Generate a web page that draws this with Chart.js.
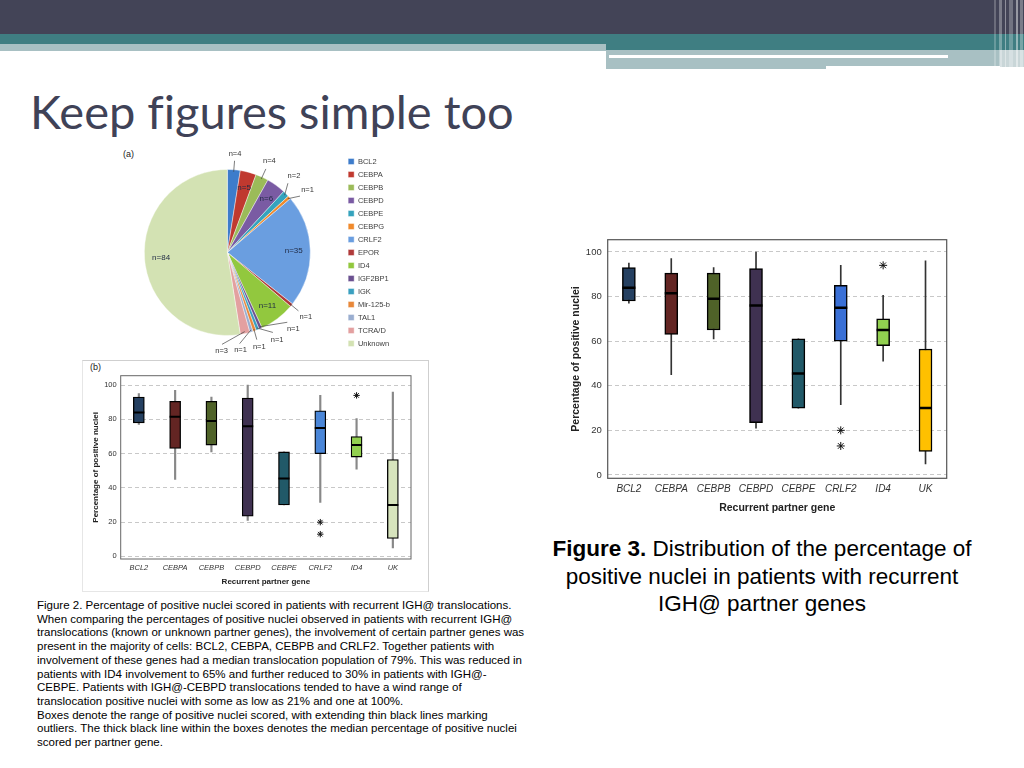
<!DOCTYPE html>
<html><head><meta charset="utf-8">
<script src="https://cdn.jsdelivr.net/npm/chart.js@4.4.0/dist/chart.umd.min.js"></script>
<style>
html,body{margin:0;padding:0;width:1024px;height:768px;overflow:hidden;background:#fff;}
.abs{position:absolute;}
#title{left:30px;top:83px;font-family:Lato,"Open Sans",sans-serif;font-size:47px;color:#3f4257;white-space:nowrap;font-variant-ligatures:none;}
#fig3{left:500px;top:535px;width:524px;text-align:center;font-family:"Liberation Sans",Arial,sans-serif;font-size:22.5px;line-height:27.5px;color:#000;}
#fig3 .in{display:inline-block;margin-left:0;}
#fig2{left:37px;top:599px;font-family:"Liberation Sans",Arial,sans-serif;font-size:11.5px;line-height:13.7px;color:#000;white-space:nowrap;}
.lab{font-family:"Liberation Sans",Arial,sans-serif;color:#222;}
</style></head><body>
<!-- header bands -->
<div class="abs" style="left:0;top:0;width:1024px;height:34px;background:#434457"></div>
<div class="abs" style="left:0;top:34px;width:1024px;height:10px;background:#3f7e82"></div>
<div class="abs" style="left:0;top:44px;width:606px;height:7px;background:#a8c0c3"></div>
<div class="abs" style="left:606px;top:44px;width:418px;height:6px;background:#3f7e82"></div>
<div class="abs" style="left:606px;top:50px;width:394px;height:19px;background:#a8c0c3"></div>
<div class="abs" style="left:609px;top:55px;width:339px;height:3px;background:#fff"></div>
<div class="abs" style="left:826px;top:66px;width:174px;height:3px;background:#fff"></div>
<div class="abs" style="left:1000px;top:50px;width:24px;height:17px;background:#c9d6d8"></div>
<div class="abs" style="left:994px;top:0;width:2px;height:69px;background:rgba(255,255,255,0.22)"></div>
<div class="abs" style="left:999px;top:0;width:3px;height:69px;background:rgba(255,255,255,0.3)"></div>
<div class="abs" style="left:1005px;top:0;width:1px;height:69px;background:rgba(255,255,255,0.4)"></div>
<div class="abs" style="left:1009px;top:0;width:4px;height:69px;background:rgba(255,255,255,0.25)"></div>
<div class="abs" style="left:1016px;top:0;width:2px;height:69px;background:rgba(255,255,255,0.45)"></div>
<div class="abs" style="left:1020px;top:0;width:3px;height:69px;background:rgba(255,255,255,0.3)"></div>

<div id="title" class="abs">Keep figures simple too</div>

<div class="abs lab" style="left:123px;top:149px;font-size:9px;">(a)</div>
<canvas id="pie" class="abs" width="290" height="212" style="left:110px;top:145px"></canvas>

<div class="abs" style="left:82px;top:360px;width:345px;height:230px;border:1px solid #cfcfcf;border-left-color:#e6e6e6;border-bottom-color:#e6e6e6"></div>
<div class="abs lab" style="left:90px;top:362px;font-size:9px;">(b)</div>
<canvas id="boxL" class="abs" width="340" height="226" style="left:84px;top:362px"></canvas>

<canvas id="boxR" class="abs" width="400" height="296" style="left:560px;top:228px"></canvas>

<div id="fig3" class="abs"><b>Figure 3.</b> Distribution of the percentage of<br>positive nuclei in patients with recurrent<br>IGH@ partner genes</div>

<div id="fig2" class="abs">Figure 2. Percentage of positive nuclei scored in patients with recurrent IGH@ translocations.<br>When comparing the percentages of positive nuclei observed in patients with recurrent IGH@<br>translocations (known or unknown partner genes), the involvement of certain partner genes was<br>present in the majority of cells: BCL2, CEBPA, CEBPB and CRLF2. Together patients with<br>involvement of these genes had a median translocation population of 79%. This was reduced in<br>patients with ID4 involvement to 65% and further reduced to 30% in patients with IGH@-<br>CEBPE. Patients with IGH@-CEBPD translocations tended to have a wind range of<br>translocation positive nuclei with some as low as 21% and one at 100%.<br>Boxes denote the range of positive nuclei scored, with extending thin black lines marking<br>outliers. The thick black line within the boxes denotes the median percentage of positive nuclei<br>scored per partner gene.</div>

<script>
// ---------- data ----------
const genes       = ['BCL2','CEBPA','CEBPB','CEBPD','CEBPE','CRLF2','ID4','UK'];
const whiskerLow  = [77, 45, 61, 21, 30, 31.5, 51, 5];
const quartile1   = [78, 63, 65, 23.5, 30, 60, 58, 10.5];
const medianVal   = [84, 81.5, 79, 76, 45.5, 75, 65, 30];
const quartile3   = [93, 90.5, 90.5, 92.5, 61, 85, 70, 56.5];
const whiskerHigh = [95, 97, 93, 100, 61, 94, 80.5, 96];
const outlierGene  = ['CRLF2','CRLF2','ID4'];
const outlierValue = [20, 13, 94];
const yTicks = [0, 20, 40, 60, 80, 100];

const pieGenes  = ['BCL2','CEBPA','CEBPB','CEBPD','CEBPE','CEBPG','CRLF2','EPOR','ID4','IGF2BP1','IGK','Mir-125-b','TAL1','TCRA/D','Unknown'];
const pieCounts = [4, 5, 4, 6, 2, 1, 35, 1, 11, 1, 1, 1, 1, 3, 84];

// ---------- styles ----------
const F = '"Liberation Sans", Arial, sans-serif';
const pieColors = ['#3d7ccb','#c0392f','#9bbb59','#7a5ba3','#35a3bd','#f08a2c','#6a9ee0','#b03a3a','#92c83e','#6b5190','#3aa0c0','#e8883a','#9aaed0','#e3a0a0','#d3e2b3'];
const boxColorsL = ['#254061','#632523','#4f6228','#3f3151','#215968','#4a86d8','#92d050','#d7e4bd'];
const boxColorsR = ['#254061','#632523','#4f6228','#3f3151','#215968','#3a70d6','#92d050','#ffc000'];

const pieLabelPlugin = {id:'pieLabels', afterDatasetsDraw(chart){
  const ctx = chart.ctx, arcs = chart.getDatasetMeta(0).data;
  const out = [], inside = [];
  arcs.forEach((arc,i)=>{
    const p = arc.getProps(['x','y','startAngle','endAngle','outerRadius'], true);
    const mid = (p.startAngle + p.endAngle)/2;
    const it = {i, cx:p.x, cy:p.y, r:p.outerRadius, mid, la:mid, text:'n=' + pieCounts[i]};
    (pieCounts[i] >= 5 ? inside : out).push(it);
  });
  const minSep = 11*Math.PI/180;
  const groups = []; let g = [out[0]];
  for (let k=1;k<out.length;k++){
    if (out[k].mid - out[k-1].mid < minSep) g.push(out[k]); else { groups.push(g); g=[out[k]]; }
  }
  groups.push(g);
  groups.forEach(gr=>{
    const mean = gr.reduce((s,it)=>s+it.mid,0)/gr.length;
    gr.forEach((it,k)=>{ it.la = mean + (k-(gr.length-1)/2)*minSep; });
  });
  ctx.save();
  ctx.font = '7.5px ' + F; ctx.fillStyle = '#333'; ctx.strokeStyle = '#444'; ctx.lineWidth = 0.7;
  ctx.textAlign = 'center'; ctx.textBaseline = 'middle';
  out.forEach(it=>{
    const sx = it.cx + Math.cos(it.mid)*(it.r-2), sy = it.cy + Math.sin(it.mid)*(it.r-2);
    const ex = it.cx + Math.cos(it.la)*(it.r+9), ey = it.cy + Math.sin(it.la)*(it.r+9);
    ctx.beginPath(); ctx.moveTo(sx,sy); ctx.lineTo(ex,ey); ctx.stroke();
    const w = ctx.measureText(it.text).width, h = 8;
    const dx = Math.cos(it.la), dy = Math.sin(it.la);
    const off = 2 + Math.abs(dx)*w/2 + Math.abs(dy)*h/2;
    ctx.fillText(it.text, ex + dx*off, ey + dy*off);
  });
  ctx.font = '8px ' + F; ctx.fillStyle = '#1f2a44';
  inside.forEach(it=>{
    ctx.fillText(it.text, it.cx + Math.cos(it.mid)*it.r*0.8, it.cy + Math.sin(it.mid)*it.r*0.8);
  });
  ctx.restore();
}};

new Chart(document.getElementById('pie'), {
  type:'pie',
  data:{labels:pieGenes, datasets:[{data:pieCounts, backgroundColor:pieColors, borderColor:'rgba(255,255,255,0.7)', borderWidth:0.6, radius:83}]},
  options:{responsive:false, animation:false, events:[],
    layout:{padding:{left:2, top:5, bottom:2}},
    plugins:{tooltip:{enabled:false},
      legend:{position:'right', labels:{boxWidth:6, boxHeight:6, padding:5.5, color:'#404040', font:{family:F, size:7.5}}}}},
  plugins:[pieLabelPlugin]
});

const framePlugin = (c,w)=>({id:'frame', afterDraw(chart){
  const {ctx, chartArea:a} = chart;
  ctx.save(); ctx.strokeStyle = c; ctx.lineWidth = w;
  ctx.strokeRect(a.left, a.top, a.right-a.left, a.bottom-a.top);
  ctx.restore();
}});

function boxChart(id, o){
  return new Chart(document.getElementById(id), {
    type:'bar',
    data:{labels:genes, datasets:[
      {label:'range', data:genes.map((g,i)=>[whiskerLow[i], whiskerHigh[i]]), backgroundColor:o.whisker, barThickness:o.whiskerW, grouped:false, order:3},
      {label:'box', data:genes.map((g,i)=>[quartile1[i], quartile3[i]]), backgroundColor:o.colors, borderColor:'#000', borderWidth:o.boxBorder, borderSkipped:false, barThickness:o.boxW, grouped:false, order:2},
      {type:'line', label:'median', data:medianVal, showLine:false, pointStyle:'line', pointRadius:o.boxW/2, pointBorderWidth:o.medW, pointBorderColor:'#000', order:1},
      {type:'line', label:'outlier', data:outlierGene.map((g,i)=>({x:g, y:outlierValue[i]})), showLine:false, pointStyle:'star', pointRadius:o.starR, pointBorderWidth:1, pointBorderColor:'#111', pointBackgroundColor:'#111', order:0}
    ]},
    options:{responsive:false, animation:false, events:[],
      layout:{padding:o.pad},
      plugins:{legend:{display:false}, tooltip:{enabled:false}},
      scales:{
        x:{grid:{display:false, drawTicks:false}, border:{display:false},
           ticks:{font:{family:F, size:o.xFont, style:'italic'}, color:'#333', padding:o.xPad, maxRotation:0, autoSkip:false},
           title:{display:true, text:'Recurrent partner gene', color:'#222', font:{family:F, size:o.titleFont, weight:'bold'}, padding:{top:0, bottom:o.xTitlePad}},
           afterFit(s){ s.height = o.xH; }},
        y:{min:-1.5, max:105.5,
           afterBuildTicks(s){ s.ticks = yTicks.map(v=>({value:v})); },
           grid:{color:'#c8c8c8', drawTicks:false, lineWidth:1}, border:{display:false, dash:[4,3]},
           ticks:{font:{family:F, size:o.yFont}, color:'#333', padding:o.yPad},
           title:{display:true, text:'Percentage of positive nuclei', color:'#222', font:{family:F, size:o.titleFont, weight:'bold'}, padding:{top:o.yTitlePad, bottom:0}},
           afterFit(s){ s.width = o.yW; }}
      }},
    plugins:[framePlugin(o.frame, o.frameW)]
  });
}

boxChart('boxR', {colors:boxColorsR, whisker:'#333', whiskerW:1, boxW:13, boxBorder:1.5, medW:2.5, starR:4,
  pad:{top:7.7, right:13.3, left:0, bottom:0}, xH:45.7, yW:47.7, xFont:10, yFont:9.5, titleFont:10.5,
  xPad:5, yPad:6, xTitlePad:9.5, yTitlePad:10, frame:'#555', frameW:1.2});

boxChart('boxL', {colors:boxColorsL, whisker:'#888', whiskerW:1.5, boxW:11, boxBorder:1.3, medW:2, starR:3.2,
  pad:{top:13.7, right:13, left:0, bottom:0}, xH:29, yW:36.7, xFont:7.5, yFont:7.5, titleFont:8,
  xPad:4, yPad:4, xTitlePad:1.5, yTitlePad:6.5, frame:'#666', frameW:1});
</script>
</body></html>
